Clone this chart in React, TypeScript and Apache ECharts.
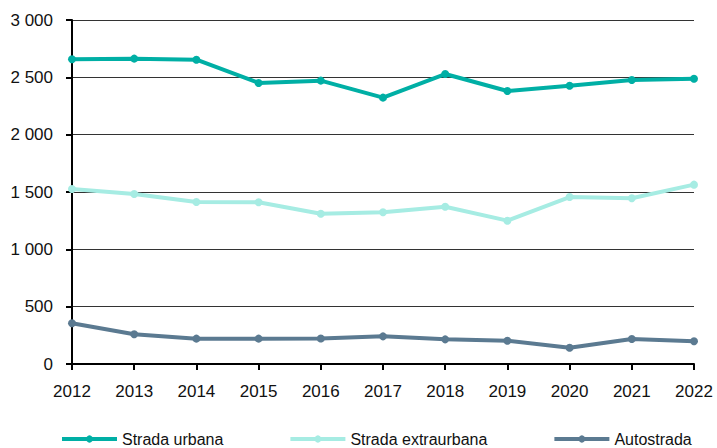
import React, { useEffect, useRef } from "react";
import * as echarts from "echarts";

const years = ["2012", "2013", "2014", "2015", "2016", "2017", "2018", "2019", "2020", "2021", "2022"];
const stradaUrbana = [2657, 2663, 2654, 2451, 2471, 2323, 2529, 2381, 2427, 2477, 2488];
const stradaExtraurbana = [1526, 1483, 1413, 1410, 1311, 1323, 1372, 1250, 1456, 1445, 1564];
const autostrada = [355, 259, 221, 221, 222, 241, 215, 203, 142, 218, 198];

const seriesNames = ["Strada urbana", "Strada extraurbana", "Autostrada"];
const colors = ["#00AFA5", "#A6ECE3", "#5B7A91"];

const fmt = (v: number) => String(v).replace(/\B(?=(\d{3})+(?!\d))/g, " ");

export default function App() {
  const ref = useRef<HTMLDivElement>(null);
  useEffect(() => {
    if (!ref.current) return;
    const chart = echarts.init(ref.current, undefined, { renderer: "svg" });
    const font = "'Liberation Sans', Arial, sans-serif";
    const mk = (name: string, data: number[], color: string) => ({
      name,
      type: "line",
      data,
      symbol: "circle",
      symbolSize: 8,
      lineStyle: { width: 4, color },
      itemStyle: { color },
      emphasis: { disabled: true },
    });
    chart.setOption({
      animation: false,
      backgroundColor: "#ffffff",
      grid: { left: 72, right: 23, top: 20, bottom: 84, containLabel: false },
      legend: {
        data: seriesNames,
        left: 60,
        top: 431,
        padding: 0,
        itemWidth: 55,
        itemHeight: 9,
        itemGap: 65,
        lineStyle: { width: 4 },
        textStyle: { fontFamily: font, fontSize: 16, color: "#111" },
      },
      xAxis: {
        type: "category",
        data: years,
        boundaryGap: false,
        axisLine: { lineStyle: { color: "#000", width: 2 } },
        axisTick: { show: true, length: 6, lineStyle: { color: "#000", width: 2 } },
        axisLabel: { fontFamily: font, fontSize: 17, color: "#111", margin: 19 },
        splitLine: { show: false },
      },
      yAxis: {
        type: "value",
        min: 0,
        max: 3000,
        interval: 500,
        axisLine: { show: true, lineStyle: { color: "#000", width: 2 } },
        axisTick: { show: true, length: 6, lineStyle: { color: "#000", width: 2 } },
        axisLabel: { fontFamily: font, fontSize: 17, color: "#111", margin: 19, formatter: (v: number) => fmt(v) },
        splitLine: { show: true, lineStyle: { color: "#333", width: 1 } },
      },
      series: [
        mk(seriesNames[0], stradaUrbana, colors[0]),
        mk(seriesNames[1], stradaExtraurbana, colors[1]),
        mk(seriesNames[2], autostrada, colors[2]),
      ],
    });
    return () => chart.dispose();
  }, []);
  return <div ref={ref} style={{ width: 717, height: 448, position: "absolute", left: 0, top: 0 }} />;
}
